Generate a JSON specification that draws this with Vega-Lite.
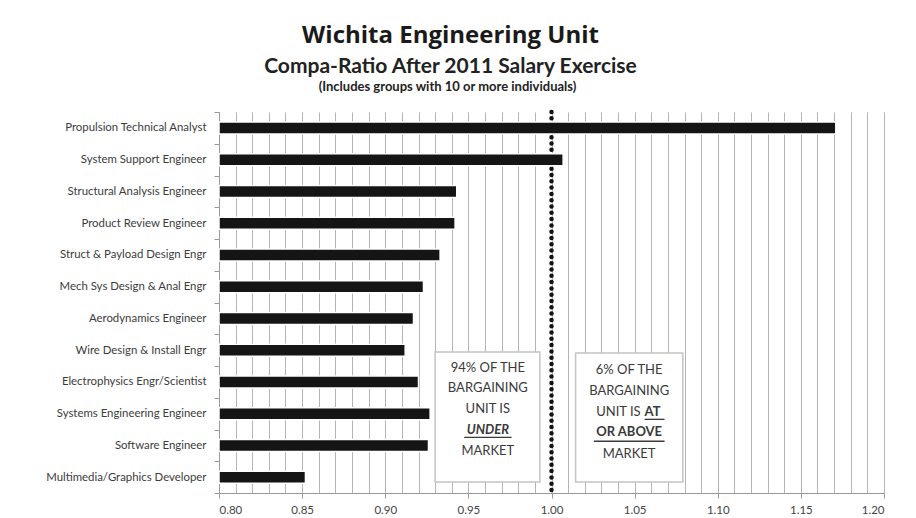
{
  "$schema": "https://vega.github.io/schema/vega-lite/v6.json",
  "width": 665,
  "height": 381,
  "autosize": "none",
  "padding": {"left": 219, "top": 112, "right": 32, "bottom": 25},
  "background": "white",
  "config": {"font": "Lato", "view": {"stroke": null}},
  "title": {
    "text": "Wichita Engineering Unit",
    "subtitle": "Compa-Ratio After 2011 Salary Exercise",
    "font": "Open Sans",
    "fontSize": 24,
    "fontWeight": "bold",
    "color": "#1a1a1a",
    "subtitleFont": "Lato",
    "subtitleFontSize": 21,
    "subtitleFontWeight": "bold",
    "subtitleColor": "#222222",
    "subtitlePadding": 8,
    "anchor": "middle",
    "dx": -101,
    "offset": 3
  },
  "datasets": {
    "ratios": [
      {"group": "Propulsion Technical Analyst", "ratio": 1.171},
      {"group": "System Support Engineer", "ratio": 1.007},
      {"group": "Structural Analysis Engineer", "ratio": 0.943},
      {"group": "Product Review Engineer", "ratio": 0.942},
      {"group": "Struct & Payload Design Engr", "ratio": 0.933},
      {"group": "Mech Sys Design & Anal Engr", "ratio": 0.923},
      {"group": "Aerodynamics Engineer", "ratio": 0.917},
      {"group": "Wire Design & Install Engr", "ratio": 0.912},
      {"group": "Electrophysics Engr/Scientist", "ratio": 0.920},
      {"group": "Systems Engineering Engineer", "ratio": 0.927},
      {"group": "Software Engineer", "ratio": 0.926},
      {"group": "Multimedia/Graphics Developer", "ratio": 0.852}
    ],
    "reference": [{"ratio": 1.0}],
    "boxes": [
      {"x1": 0.930, "x2": 0.993, "y1": 7.56, "y2": 11.65},
      {"x1": 1.0145, "x2": 1.079, "y1": 7.59, "y2": 11.65}
    ],
    "plain": [
      {"label": "94% OF THE", "x": 0.9617, "y": 8.06},
      {"label": "BARGAINING", "x": 0.9617, "y": 8.69},
      {"label": "UNIT IS", "x": 0.9617, "y": 9.35},
      {"label": "MARKET", "x": 0.9617, "y": 10.68},
      {"label": "6% OF THE", "x": 1.0467, "y": 8.13},
      {"label": "BARGAINING", "x": 1.0467, "y": 8.79},
      {"label": "MARKET", "x": 1.0467, "y": 10.77}
    ],
    "plainRight": [{"label": "UNIT IS", "x": 1.0536, "y": 9.45}],
    "boldLeft": [{"label": "AT", "x": 1.0560, "y": 9.45}],
    "boldCenter": [{"label": "OR ABOVE", "x": 1.0467, "y": 10.08}],
    "boldItalic": [{"label": "UNDER", "x": 0.9617, "y": 10.02}],
    "underlines": [
      {"x1": 0.9475, "x2": 0.9760, "y": 10.25},
      {"x1": 1.0560, "x2": 1.0680, "y": 9.68},
      {"x1": 1.0255, "x2": 1.0680, "y": 10.37}
    ]
  },
  "layer": [
    {
      "data": {"name": "reference"},
      "mark": {"type": "rule", "strokeDash": [0, 6.3], "strokeCap": "round", "strokeWidth": 4.5, "color": "#111111"},
      "encoding": {
        "x": {
          "field": "ratio",
          "type": "quantitative",
          "scale": {"domain": [0.8, 1.2], "zero": false, "nice": false},
          "axis": {
            "orient": "top",
            "values": [0.80,0.81,0.82,0.83,0.84,0.85,0.86,0.87,0.88,0.89,0.90,0.91,0.92,0.93,0.94,0.95,0.96,0.97,0.98,0.99,1.00,1.01,1.02,1.03,1.04,1.05,1.06,1.07,1.08,1.09,1.10,1.11,1.12,1.13,1.14,1.15,1.16,1.17,1.18,1.19,1.20],
            "grid": true,
            "gridColor": "#b4b4b4",
            "gridWidth": 1,
            "labels": false,
            "ticks": false,
            "domain": false,
            "title": "(Includes groups with 10 or more individuals)",
            "titleFont": "Lato",
            "titleFontSize": 13,
            "titleFontWeight": "bold",
            "titleColor": "#222222",
            "titleX": 228,
            "titleY": -19,
            "titleAlign": "center",
            "titleBaseline": "bottom"
          }
        }
      }
    },
    {
      "data": {"name": "boxes"},
      "mark": {"type": "rect", "fill": "white", "stroke": "#c4c4c4", "strokeWidth": 1.5},
      "encoding": {
        "x": {"field": "x1", "type": "quantitative", "axis": null},
        "x2": {"field": "x2"},
        "y": {"field": "y1", "type": "quantitative", "scale": {"domain": [0, 12], "reverse": true, "nice": false, "zero": false}, "axis": null},
        "y2": {"field": "y2"}
      }
    },
    {
      "data": {"name": "ratios"},
      "mark": {"type": "bar", "height": 12, "color": "#151515", "stroke": "white", "strokeWidth": 1.5},
      "encoding": {
        "y": {
          "field": "group",
          "type": "nominal",
          "sort": null,
          "scale": {"paddingInner": 0, "paddingOuter": 0},
          "axis": {"title": null, "labelFontSize": 11.4, "labelColor": "#3c3c3c", "labelPadding": 8, "tickSize": 5, "tickBand": "extent", "tickColor": "#999999", "domainColor": "#999999", "labelLimit": 250}
        },
        "x": {
          "field": "ratio",
          "type": "quantitative",
          "axis": {"values": [0.8, 0.85, 0.9, 0.95, 1.0, 1.05, 1.1, 1.15, 1.2], "format": ".2f", "grid": false, "title": null, "labelFontSize": 11.5, "labelColor": "#444444", "tickSize": 5, "tickColor": "#999999", "domainColor": "#999999", "labelPadding": 6}
        },
        "x2": {"datum": 0.8}
      }
    },
    {
      "data": {"name": "plain"},
      "mark": {"type": "text", "fontSize": 13, "color": "#3a3a3a", "align": "center", "baseline": "middle"},
      "encoding": {
        "x": {"field": "x", "type": "quantitative", "axis": null},
        "y": {"field": "y", "type": "quantitative", "scale": {"domain": [0, 12], "reverse": true, "nice": false, "zero": false}, "axis": null},
        "text": {"field": "label"}
      }
    },
    {
      "data": {"name": "plainRight"},
      "mark": {"type": "text", "fontSize": 13, "color": "#3a3a3a", "align": "right", "baseline": "middle"},
      "encoding": {
        "x": {"field": "x", "type": "quantitative", "axis": null},
        "y": {"field": "y", "type": "quantitative", "scale": {"domain": [0, 12], "reverse": true, "nice": false, "zero": false}, "axis": null},
        "text": {"field": "label"}
      }
    },
    {
      "data": {"name": "boldLeft"},
      "mark": {"type": "text", "fontSize": 13, "fontWeight": "bold", "color": "#3a3a3a", "align": "left", "baseline": "middle"},
      "encoding": {
        "x": {"field": "x", "type": "quantitative", "axis": null},
        "y": {"field": "y", "type": "quantitative", "scale": {"domain": [0, 12], "reverse": true, "nice": false, "zero": false}, "axis": null},
        "text": {"field": "label"}
      }
    },
    {
      "data": {"name": "boldCenter"},
      "mark": {"type": "text", "fontSize": 13, "fontWeight": "bold", "color": "#3a3a3a", "align": "center", "baseline": "middle"},
      "encoding": {
        "x": {"field": "x", "type": "quantitative", "axis": null},
        "y": {"field": "y", "type": "quantitative", "scale": {"domain": [0, 12], "reverse": true, "nice": false, "zero": false}, "axis": null},
        "text": {"field": "label"}
      }
    },
    {
      "data": {"name": "boldItalic"},
      "mark": {"type": "text", "fontSize": 13, "fontWeight": "bold", "fontStyle": "italic", "color": "#3a3a3a", "align": "center", "baseline": "middle"},
      "encoding": {
        "x": {"field": "x", "type": "quantitative", "axis": null},
        "y": {"field": "y", "type": "quantitative", "scale": {"domain": [0, 12], "reverse": true, "nice": false, "zero": false}, "axis": null},
        "text": {"field": "label"}
      }
    },
    {
      "data": {"name": "underlines"},
      "mark": {"type": "rule", "strokeWidth": 1.3, "color": "#3a3a3a"},
      "encoding": {
        "x": {"field": "x1", "type": "quantitative", "axis": null},
        "x2": {"field": "x2"},
        "y": {"field": "y", "type": "quantitative", "scale": {"domain": [0, 12], "reverse": true, "nice": false, "zero": false}, "axis": null}
      }
    }
  ],
  "resolve": {"scale": {"y": "independent"}, "axis": {"x": "independent", "y": "independent"}}
}
